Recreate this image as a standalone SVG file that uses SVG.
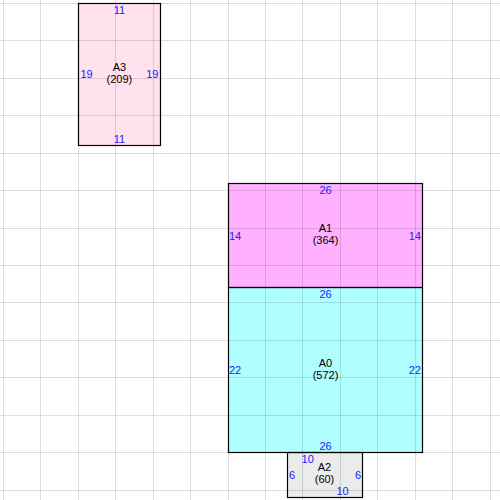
<svg xmlns="http://www.w3.org/2000/svg" width="500" height="500" viewBox="0 0 500 500">
<style>
.grid line{stroke:#000;stroke-opacity:0.13;stroke-width:1}
.box{stroke:#000;stroke-width:1.2}
.lbl{font-family:"Liberation Sans",Arial,sans-serif;font-size:11px;fill:#000;text-anchor:middle}
.num{font-family:"Liberation Sans",Arial,sans-serif;font-size:11px;fill:#2020ff;text-anchor:middle}
.l{text-anchor:start}
.r{text-anchor:end}
</style>
<rect x="0" y="0" width="500" height="500" fill="#fff"/>
<g id="fills">
<rect x="78.5" y="3.5" width="82" height="142" fill="#ffe2ee"/>
<rect x="228.5" y="183.5" width="194" height="104" fill="#ffb0ff"/>
<rect x="228.5" y="287.5" width="194" height="165" fill="#b0ffff"/>
<rect x="287.5" y="452.5" width="75" height="45" fill="#ebebeb"/>
</g>
<g class="grid">
<line x1="3.5" y1="0" x2="3.5" y2="500"/>
<line x1="40.5" y1="0" x2="40.5" y2="500"/>
<line x1="78.5" y1="0" x2="78.5" y2="500"/>
<line x1="115.5" y1="0" x2="115.5" y2="500"/>
<line x1="153.5" y1="0" x2="153.5" y2="500"/>
<line x1="190.5" y1="0" x2="190.5" y2="500"/>
<line x1="228.5" y1="0" x2="228.5" y2="500"/>
<line x1="265.5" y1="0" x2="265.5" y2="500"/>
<line x1="302.5" y1="0" x2="302.5" y2="500"/>
<line x1="340.5" y1="0" x2="340.5" y2="500"/>
<line x1="377.5" y1="0" x2="377.5" y2="500"/>
<line x1="415.5" y1="0" x2="415.5" y2="500"/>
<line x1="452.5" y1="0" x2="452.5" y2="500"/>
<line x1="490.5" y1="0" x2="490.5" y2="500"/>
<line y1="3.5" x1="0" y2="3.5" x2="500"/>
<line y1="40.5" x1="0" y2="40.5" x2="500"/>
<line y1="78.5" x1="0" y2="78.5" x2="500"/>
<line y1="115.5" x1="0" y2="115.5" x2="500"/>
<line y1="153.5" x1="0" y2="153.5" x2="500"/>
<line y1="190.5" x1="0" y2="190.5" x2="500"/>
<line y1="228.5" x1="0" y2="228.5" x2="500"/>
<line y1="265.5" x1="0" y2="265.5" x2="500"/>
<line y1="302.5" x1="0" y2="302.5" x2="500"/>
<line y1="340.5" x1="0" y2="340.5" x2="500"/>
<line y1="377.5" x1="0" y2="377.5" x2="500"/>
<line y1="415.5" x1="0" y2="415.5" x2="500"/>
<line y1="452.5" x1="0" y2="452.5" x2="500"/>
<line y1="490.5" x1="0" y2="490.5" x2="500"/>
</g>
<g id="A3">
<rect class="box" x="78.5" y="3.5" width="82" height="142" fill="none"/>
<text class="lbl" x="119.4" y="71">A3</text>
<text class="lbl" x="119.4" y="83">(209)</text>
<text class="num" x="119.4" y="14">11</text>
<text class="num" x="119.4" y="142.7">11</text>
<text class="num l" x="80.5" y="78">19</text>
<text class="num r" x="158.5" y="78">19</text>
</g>
<g id="A1">
<rect class="box" x="228.5" y="183.5" width="194" height="104" fill="none"/>
<text class="lbl" x="325.5" y="231.5">A1</text>
<text class="lbl" x="325.5" y="243.5">(364)</text>
<text class="num" x="325.5" y="194">26</text>
<text class="num l" x="229" y="239.5">14</text>
<text class="num r" x="421" y="239.5">14</text>
</g>
<g id="A0">
<rect class="box" x="228.5" y="287.5" width="194" height="165" fill="none"/>
<text class="lbl" x="325.5" y="366.5">A0</text>
<text class="lbl" x="325.5" y="378.5">(572)</text>
<text class="num" x="325.5" y="298.3">26</text>
<text class="num" x="325.5" y="450">26</text>
<text class="num l" x="229" y="374">22</text>
<text class="num r" x="421" y="374">22</text>
</g>
<g id="A2">
<rect class="box" x="287.5" y="452.5" width="75" height="45" fill="none"/>
<text class="lbl" x="324.5" y="471">A2</text>
<text class="lbl" x="324.5" y="483">(60)</text>
<text class="num" x="307.7" y="463.3">10</text>
<text class="num" x="342.5" y="495">10</text>
<text class="num l" x="289" y="479">6</text>
<text class="num r" x="361" y="479">6</text>
</g>
<g id="connectors"></g>
</svg>
